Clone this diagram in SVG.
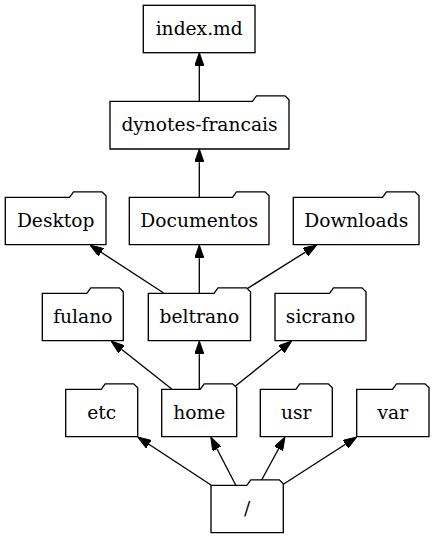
<svg xmlns="http://www.w3.org/2000/svg" width="434" height="539" viewBox="0 0 434 539">
<style>
.n{fill:#fff;stroke:#000;stroke-width:1.33}
.t{font-family:"DejaVu Serif","Liberation Serif",serif;font-size:18.67px;text-anchor:middle;fill:#000}
.e{stroke:#000;stroke-width:1.33;fill:none;marker-end:url(#ah)}
</style>
<defs>
<marker id="ah" viewBox="0 0 13.33 9.34" refX="0" refY="4.67" markerWidth="13.33" markerHeight="9.34" markerUnits="userSpaceOnUse" orient="auto">
<path d="M0,0 L13.33,4.67 L0,9.34 Z" fill="#000" stroke="#000" stroke-width="1"/>
</marker>
</defs>
<rect width="434" height="539" fill="#fff"/>
<g id="connectors">
<line class="e" x1="199.3" y1="101.3" x2="199.3" y2="66"/>
<line class="e" x1="199.3" y1="197.3" x2="199.3" y2="162.3"/>
<line class="e" x1="199.3" y1="293.3" x2="199.3" y2="258.3"/>
<line class="e" x1="199.3" y1="389.3" x2="199.3" y2="354.3"/>
<line class="e" x1="163.3" y1="292.7" x2="101.2" y2="252.3"/>
<line class="e" x1="239.5" y1="293.5" x2="305.4" y2="252.1"/>
<line class="e" x1="171.7" y1="389" x2="121.5" y2="349.3"/>
<line class="e" x1="233" y1="388" x2="281.3" y2="349.3"/>
<line class="e" x1="211" y1="485" x2="148.9" y2="444.3"/>
<line class="e" x1="235.7" y1="485" x2="216.9" y2="448.8"/>
<line class="e" x1="259.3" y1="484.3" x2="278.6" y2="448.7"/>
<line class="e" x1="283.3" y1="484.3" x2="345.5" y2="444.2"/>
</g>
<g id="index_md">
<rect class="n" x="143.3" y="5.3" width="111.7" height="47.4"/>
<text class="t" x="199.2" y="34.6">index.md</text>
</g>
<g id="dynotes_francais">
<path class="n" d="M110,149 L110,101.3 L252.5,101.3 L256.5,95.8 L285,95.8 L289,99.8 L289,149 Z"/>
<text class="t" x="199.5" y="130.7">dynotes-francais</text>
</g>
<g id="Desktop">
<path class="n" d="M5.3,244.7 L5.3,197.3 L69.5,197.3 L73.5,191.8 L102,191.8 L106,195.8 L106,244.7 Z"/>
<text class="t" x="55.7" y="226.6">Desktop</text>
</g>
<g id="Documentos">
<path class="n" d="M129.3,244.7 L129.3,197.3 L232.5,197.3 L236.5,191.8 L265,191.8 L269,195.8 L269,244.7 Z"/>
<text class="t" x="199.2" y="226.6">Documentos</text>
</g>
<g id="Downloads">
<path class="n" d="M293.3,244.7 L293.3,197.3 L382.5,197.3 L386.5,191.8 L415,191.8 L419,195.8 L419,244.7 Z"/>
<text class="t" x="356.2" y="226.6">Downloads</text>
</g>
<g id="fulano">
<path class="n" d="M42.3,340.7 L42.3,293.3 L86.8,293.3 L90.8,287.8 L119.3,287.8 L123.3,291.8 L123.3,340.7 Z"/>
<text class="t" x="82.8" y="322.6">fulano</text>
</g>
<g id="beltrano">
<path class="n" d="M148.3,340.7 L148.3,293.3 L214,293.3 L218,287.8 L246.5,287.8 L250.5,291.8 L250.5,340.7 Z"/>
<text class="t" x="199.4" y="322.6">beltrano</text>
</g>
<g id="sicrano">
<path class="n" d="M275,340.7 L275,293.3 L329.5,293.3 L333.5,287.8 L362,287.8 L366,291.8 L366,340.7 Z"/>
<text class="t" x="320.5" y="322.6">sicrano</text>
</g>
<g id="etc">
<path class="n" d="M65.7,436.7 L65.7,389.3 L101.2,389.3 L105.2,383.8 L133.7,383.8 L137.7,387.8 L137.7,436.7 Z"/>
<text class="t" x="101.7" y="418.6">etc</text>
</g>
<g id="home">
<path class="n" d="M161.7,436.7 L161.7,389.3 L200.2,389.3 L204.2,383.8 L232.7,383.8 L236.7,387.8 L236.7,436.7 Z"/>
<text class="t" x="199.2" y="418.6">home</text>
</g>
<g id="usr">
<path class="n" d="M260.3,436.7 L260.3,389.3 L295.8,389.3 L299.8,383.8 L328.3,383.8 L332.3,387.8 L332.3,436.7 Z"/>
<text class="t" x="296.3" y="418.6">usr</text>
</g>
<g id="var">
<path class="n" d="M356.7,436.7 L356.7,389.3 L392.5,389.3 L396.5,383.8 L425,383.8 L429,387.8 L429,436.7 Z"/>
<text class="t" x="392.8" y="418.6">var</text>
</g>
<g id="root">
<path class="n" d="M211,532.7 L211,485.3 L246.8,485.3 L250.8,479.8 L279.3,479.8 L283.3,483.8 L283.3,532.7 Z"/>
<text class="t" x="247.2" y="514.6">/</text>
</g>
</svg>
